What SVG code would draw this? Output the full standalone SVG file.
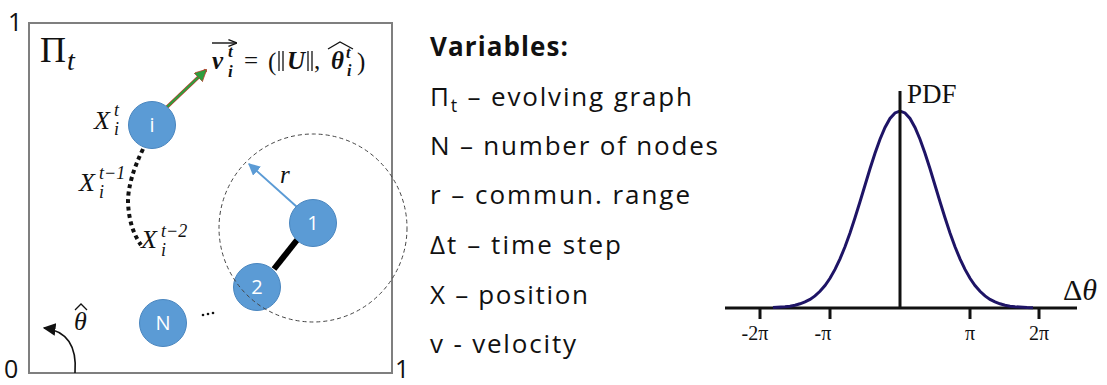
<svg xmlns="http://www.w3.org/2000/svg" width="1107" height="385" viewBox="0 0 1107 385">
<defs>
<style>
.node{fill:#5B9BD5;stroke:#4A86BF;stroke-width:1}
.nl{font-family:"Open Sans","Liberation Sans",sans-serif;font-size:20px;fill:#fff;text-anchor:middle}
.m{font-family:"Liberation Serif",serif;fill:#111}
.mi{font-family:"Liberation Serif",serif;font-style:italic;fill:#111}
.mb{font-family:"Liberation Serif",serif;font-style:italic;font-weight:bold;fill:#111}
.var{font-family:"Open Sans","Liberation Sans",sans-serif;font-size:26px;fill:#111}
.ax{stroke:#111;stroke-width:3;fill:none}
.tk{font-family:"Liberation Serif",serif;font-size:20px;fill:#111;text-anchor:middle}
.corner{font-family:"Open Sans","Liberation Sans",sans-serif;font-size:25px;fill:#111}
</style>
<marker id="ag" viewBox="0 0 10 10" refX="9" refY="5" markerWidth="5" markerHeight="5" orient="auto" markerUnits="strokeWidth"><path d="M0,0 L10,5 L0,10 z" fill="#2E9E3E" stroke="#c0392b" stroke-width="0.6"/></marker>
<marker id="ab" viewBox="0 0 10 10" refX="9" refY="5" markerWidth="6" markerHeight="6" orient="auto" markerUnits="strokeWidth"><path d="M0,0 L10,5 L0,10 z" fill="#5B9BD5"/></marker>
<marker id="ak" viewBox="0 0 10 10" refX="9" refY="5" markerWidth="8" markerHeight="8" orient="auto" markerUnits="strokeWidth"><path d="M0,0 L10,5 L0,10 z" fill="#111"/></marker>
<marker id="av" viewBox="0 0 10 10" refX="9" refY="5" markerWidth="6" markerHeight="6" orient="auto" markerUnits="strokeWidth"><path d="M0,1 L10,5 L0,9" fill="none" stroke="#111" stroke-width="1.6"/></marker>
</defs>
<rect width="1107" height="385" fill="#fff"/>

<!-- left panel frame -->
<rect x="29" y="23" width="363" height="350" fill="none" stroke="#7f7f7f" stroke-width="2"/>
<text class="corner" x="8" y="31">1</text>
<text class="corner" x="4" y="378">0</text>
<text class="corner" x="395" y="378">1</text>

<!-- Pi_t -->
<text class="m" x="40" y="62" font-size="36">Π</text>
<text class="mi" x="67" y="70" font-size="28">t</text>

<!-- velocity label -->
<g id="velocity-label">
<line x1="212" y1="43" x2="236" y2="43" stroke="#111" stroke-width="1.4" marker-end="url(#av)"/>
<text class="mb" x="212" y="69" font-size="25">v</text>
<text class="mb" x="228" y="57" font-size="17">t</text>
<text class="mb" x="228" y="77" font-size="17">i</text>
<text class="m" x="244" y="69" font-size="25">=</text>
<text class="m" x="268" y="70" font-size="25">(</text>
<line x1="279" y1="51" x2="279" y2="71" stroke="#111" stroke-width="1.3"/>
<line x1="283" y1="51" x2="283" y2="71" stroke="#111" stroke-width="1.3"/>
<text class="mb" x="287" y="69" font-size="25">U</text>
<line x1="308" y1="51" x2="308" y2="71" stroke="#111" stroke-width="1.3"/>
<line x1="312" y1="51" x2="312" y2="71" stroke="#111" stroke-width="1.3"/>
<text class="m" x="314" y="69" font-size="25">,</text>
<text class="mb" x="331" y="69" font-size="25">θ</text>
<path d="M328,49 L340,42 L353,49" fill="none" stroke="#111" stroke-width="1.3"/>
<text class="mb" x="346" y="58" font-size="16">t</text>
<text class="mb" x="347" y="76" font-size="16">i</text>
<text class="m" x="357" y="70" font-size="25">)</text>
</g>

<!-- position labels -->
<text class="mi" x="94" y="129" font-size="26">X</text>
<text class="mi" x="114" y="116" font-size="18">t</text>
<text class="mi" x="114" y="135" font-size="18">i</text>
<text class="mi" x="79" y="191" font-size="26">X</text>
<text class="mi" x="99" y="179" font-size="18">t−1</text>
<text class="mi" x="99" y="198" font-size="18">i</text>
<text class="mi" x="141" y="248" font-size="26">X</text>
<text class="mi" x="161" y="237" font-size="18">t−2</text>
<text class="mi" x="161" y="256" font-size="18">i</text>

<!-- r label -->
<text class="mi" x="280" y="183" font-size="25">r</text>

<!-- theta hat label -->
<text class="mi" x="74" y="330" font-size="26">θ</text>
<path d="M75,310 L81,304 L87,310" fill="none" stroke="#111" stroke-width="1.3"/>

<!-- connectors -->
<g id="connectors">
<line x1="167" y1="107" x2="206" y2="70" stroke="#c0392b" stroke-width="3.4"/>
<line x1="167" y1="107" x2="206" y2="70" stroke="#2E9E3E" stroke-width="2.4" marker-end="url(#ag)"/>
<path d="M143,149 Q128,180 128,202 Q129,228 141,245" fill="none" stroke="#111" stroke-width="4" stroke-dasharray="4 3.5"/>
<line x1="297" y1="240" x2="274" y2="269" stroke="#000" stroke-width="6"/>
<line x1="297" y1="207" x2="249" y2="164" stroke="#5B9BD5" stroke-width="2" marker-end="url(#ab)"/>
<path d="M75,373 C77,348 68,331 44,328" fill="none" stroke="#111" stroke-width="1.6" marker-end="url(#ak)"/>
<g fill="#111"><circle cx="203" cy="315" r="1.3"/><circle cx="208" cy="314" r="1.3"/><circle cx="213" cy="313" r="1.3"/></g>
</g>

<!-- nodes -->
<g id="node-i"><circle class="node" cx="152" cy="125" r="23.5"/><text class="nl" x="152" y="132">i</text></g>
<g id="node-1"><circle class="node" cx="313" cy="223" r="23.5"/><text class="nl" x="313" y="230">1</text></g>
<g id="node-2"><circle class="node" cx="257" cy="287" r="23.5"/><text class="nl" x="257" y="294">2</text></g>
<g id="node-N"><circle class="node" cx="163" cy="323" r="23.5"/><text class="nl" x="163" y="330">N</text></g>

<!-- communication range -->
<circle id="range" cx="313" cy="228" r="94" fill="none" stroke="#444" stroke-width="1" stroke-dasharray="4 3"/>

<!-- variables -->
<g id="variables">
<text class="var" x="430" y="56" font-weight="bold" textLength="138" lengthAdjust="spacing">Variables:</text>
<text class="var" x="430" y="106" textLength="262" lengthAdjust="spacing">Π<tspan font-size="18" dy="6">t</tspan><tspan dy="-6"> – evolving graph</tspan></text>
<text class="var" x="430" y="155" textLength="288" lengthAdjust="spacing">N – number of nodes</text>
<text class="var" x="430" y="204" textLength="260" lengthAdjust="spacing">r – commun. range</text>
<text class="var" x="430" y="254" textLength="191" lengthAdjust="spacing">Δt – time step</text>
<text class="var" x="430" y="304" textLength="158" lengthAdjust="spacing">X – position</text>
<text class="var" x="430" y="353" textLength="146" lengthAdjust="spacing">v - velocity</text>
</g>

<!-- PDF chart -->
<g id="chart">
<line class="ax" x1="725" y1="308" x2="1077" y2="308"/>
<g class="ax"><line x1="760" y1="308" x2="760" y2="319"/><line x1="830" y1="308" x2="830" y2="319"/><line x1="970" y1="308" x2="970" y2="319"/><line x1="1039" y1="308" x2="1039" y2="319"/></g>
<polyline fill="none" stroke="#1E1466" stroke-width="3" points="773,307.6 785,306.8 790,306.2 795,305.2 800,303.8 805,301.9 810,299.4 815,295.9 820,291.3 825,285.5 830,278.3 835,269.4 840,258.9 845,246.7 850,232.9 855,217.8 860,201.7 865,185.2 870,168.8 875,153.2 880,139.2 885,127.4 890,118.5 895,112.9 900,111 905,112.9 910,118.5 915,127.4 920,139.2 925,153.2 930,168.8 935,185.2 940,201.7 945,217.8 950,232.9 955,246.7 960,258.9 965,269.4 970,278.3 975,285.5 980,291.3 985,295.9 990,299.4 995,301.9 1000,303.8 1005,305.2 1010,306.2 1015,306.8 1027,307.6 1033,307.8"/>
<line class="ax" x1="900" y1="91" x2="900" y2="309"/>
<text class="m" x="907" y="103" font-size="27">PDF</text>
<text class="m" x="1063" y="300" font-size="30">Δ<tspan font-style="italic">θ</tspan></text>
<text class="tk" x="755" y="340">-2π</text>
<text class="tk" x="823" y="340">-π</text>
<text class="tk" x="970" y="340">π</text>
<text class="tk" x="1039" y="340">2π</text>
</g>
</svg>
